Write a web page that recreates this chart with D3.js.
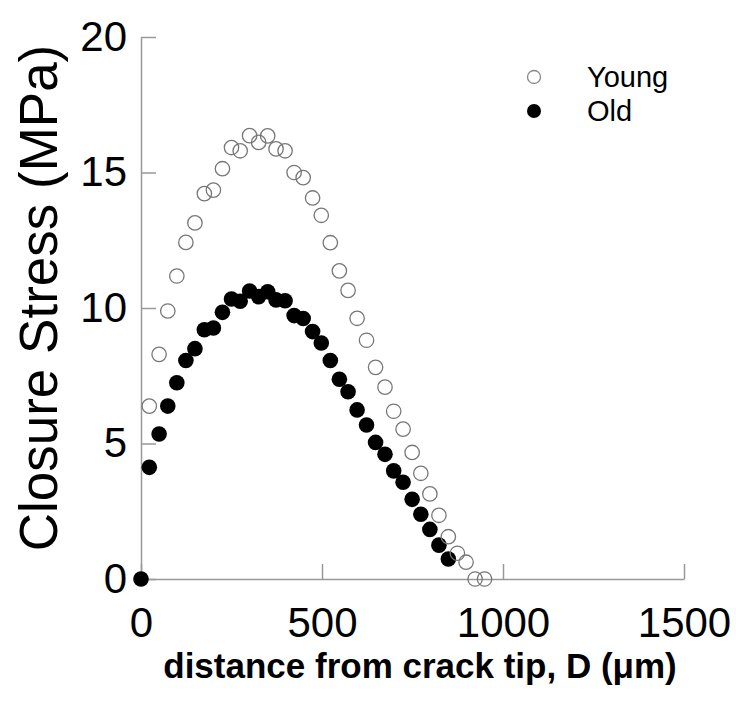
<!DOCTYPE html>
<html>
<head>
<meta charset="utf-8">
<script src="https://cdn.jsdelivr.net/npm/d3@7"></script>
<style>
  html, body { margin: 0; padding: 0; background: #fff; }
  svg { display: block; font-family: Arial, "Liberation Sans", sans-serif; }
</style>
</head>
<body>
<svg id="chart" width="736" height="702"></svg>
<script>
// ---- data ----
const youngD = [23, 50, 74, 99, 124, 149, 175, 200, 225, 250, 274, 300, 325, 350, 373, 398, 423, 448, 474, 498, 523, 548, 572, 597, 623, 648, 674, 698, 724, 749, 773, 798, 823, 849, 874, 898, 923, 949];
const youngStress = [6.38, 8.29, 9.89, 11.18, 12.42, 13.14, 14.22, 14.35, 15.14, 15.92, 15.80, 16.36, 16.11, 16.35, 15.87, 15.80, 15.0, 14.81, 14.06, 13.42, 12.41, 11.37, 10.65, 9.62, 8.81, 7.81, 7.08, 6.19, 5.53, 4.67, 3.90, 3.14, 2.35, 1.56, 0.95, 0.62, 0, 0];
const oldD = [0, 23, 50, 74, 99, 124, 149, 175, 200, 225, 250, 274, 300, 325, 350, 373, 398, 423, 448, 474, 498, 523, 548, 572, 597, 623, 648, 674, 698, 724, 749, 773, 798, 823, 849];
const oldStress = [0, 4.12, 5.35, 6.38, 7.24, 8.06, 8.50, 9.20, 9.26, 9.84, 10.33, 10.25, 10.63, 10.42, 10.60, 10.30, 10.27, 9.72, 9.61, 9.13, 8.71, 8.06, 7.37, 6.91, 6.24, 5.68, 5.04, 4.60, 3.99, 3.57, 2.94, 2.39, 1.83, 1.25, 0.74];
const xTicks = [0, 500, 1000, 1500];
const yTicks = [0, 5, 10, 15, 20];
const seriesNames = ["Young", "Old"];
const xTitle = "distance from crack tip, D (\u03bcm)";
const yTitle = "Closure Stress (MPa)";

// ---- chart ----
const svg = d3.select("#chart");
const x = d3.scaleLinear().domain([0, 1500]).range([141, 684]);
const y = d3.scaleLinear().domain([0, 20]).range([579, 37]);
const axisColor = "#999";

const xAxis = svg.append("g")
  .attr("transform", `translate(0,${y(0)})`)
  .call(d3.axisBottom(x).tickValues(xTicks).tickFormat(d3.format("d"))
    .tickSizeInner(-15).tickSizeOuter(0).tickPadding(28));
const yAxis = svg.append("g")
  .attr("transform", `translate(${x(0)},0)`)
  .call(d3.axisLeft(y).tickValues(yTicks).tickFormat(d3.format("d"))
    .tickSizeInner(-15).tickSizeOuter(0).tickPadding(14));

[xAxis, yAxis].forEach(g => {
  g.select(".domain").attr("stroke", axisColor).attr("stroke-width", 1.5);
  g.selectAll(".tick line").attr("stroke", axisColor).attr("stroke-width", 1.5);
  g.selectAll(".tick text").attr("fill", "#000").attr("font-size", 42)
    .attr("font-family", "Arial, 'Liberation Sans', sans-serif");
});

// titles
svg.append("text")
  .attr("x", 420).attr("y", 678)
  .attr("text-anchor", "middle")
  .attr("font-size", 35).attr("font-weight", "bold").attr("fill", "#000")
  .text(xTitle);
svg.append("text")
  .attr("transform", `translate(57,${298}) rotate(-90)`)
  .attr("text-anchor", "middle")
  .attr("font-size", 53).attr("fill", "#000")
  .text(yTitle);

// data: filled (old) first, then open (young) on top
const oldData = oldD.map((d, i) => ({ d, s: oldStress[i] }));
const youngData = youngD.map((d, i) => ({ d, s: youngStress[i] }));

svg.append("g").selectAll("circle").data(oldData).join("circle")
  .attr("cx", p => x(p.d)).attr("cy", p => y(p.s))
  .attr("r", 7.8).attr("fill", "#000");

svg.append("g").selectAll("circle").data(youngData).join("circle")
  .attr("cx", p => x(p.d)).attr("cy", p => y(p.s))
  .attr("r", 7.2).attr("fill", "none").attr("stroke", "#777").attr("stroke-width", 1.3);

// legend
const legend = svg.append("g");
const legY = [77, 111];
legend.append("circle").attr("cx", 534).attr("cy", legY[0]).attr("r", 6.5)
  .attr("fill", "none").attr("stroke", "#888").attr("stroke-width", 1.3);
legend.append("circle").attr("cx", 534).attr("cy", legY[1]).attr("r", 7)
  .attr("fill", "#000");
legend.selectAll("text").data(seriesNames).join("text")
  .attr("x", 587).attr("y", (d, i) => legY[i] + 10)
  .attr("font-size", 29).attr("fill", "#000")
  .text(d => d);
</script>
</body>
</html>
